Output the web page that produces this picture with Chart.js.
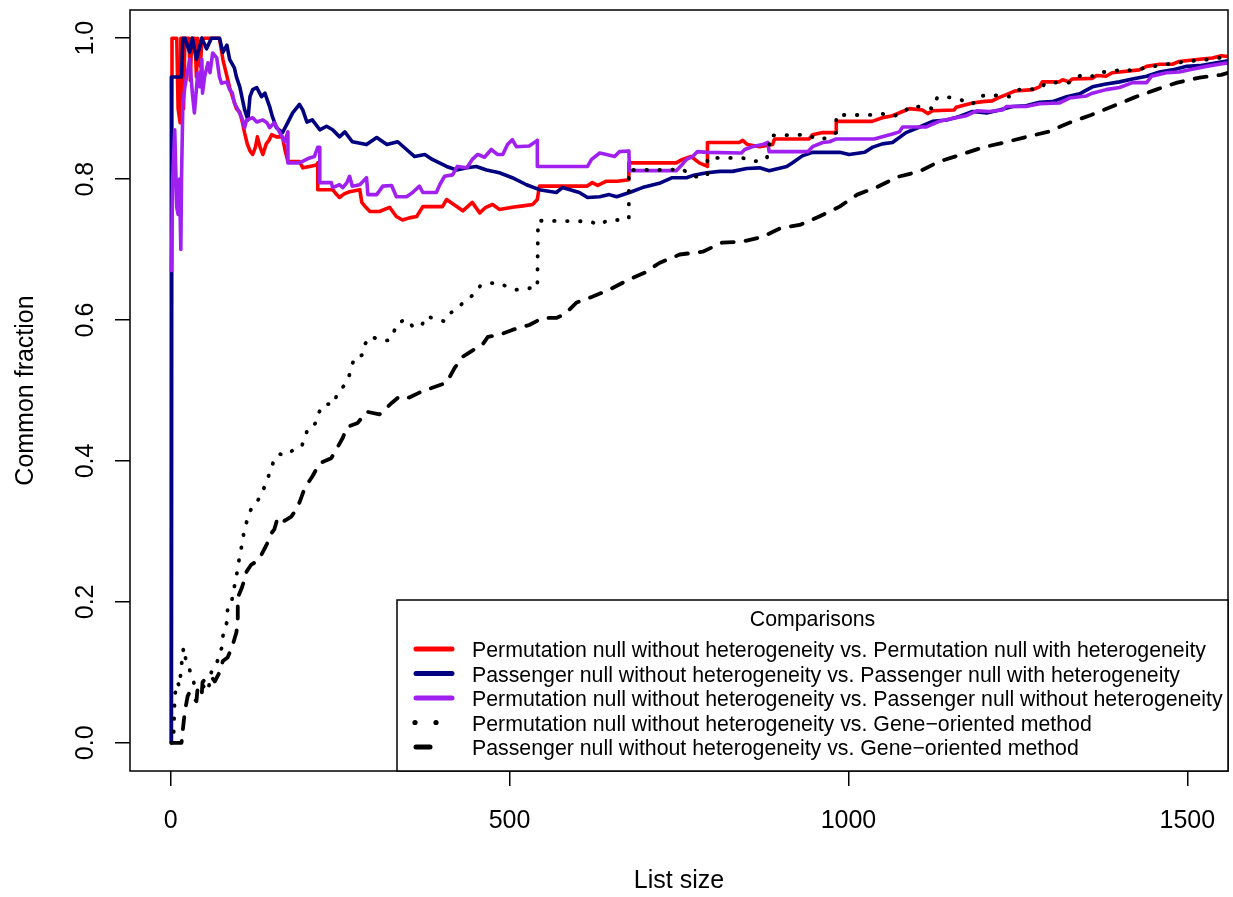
<!DOCTYPE html>
<html>
<head>
<meta charset="utf-8">
<script src="https://cdn.jsdelivr.net/npm/chart.js@4.4.0/dist/chart.umd.min.js"></script>
<style>
  html, body { margin: 0; padding: 0; background: #fff; }
  canvas { display: block; }
</style>
</head>
<body>
<canvas id="myChart" width="1233" height="897" style="width:1233px;height:897px"></canvas>
<script>
/* ===== DATA ===== */
const xTicks = [0, 500, 1000, 1500];
const xTickLabels = ['0', '500', '1000', '1500'];
const yTicks = [0, 0.2, 0.4, 0.6, 0.8, 1.0];
const yTickLabels = ['0.0', '0.2', '0.4', '0.6', '0.8', '1.0'];

const seriesNames = [
    'Permutation null without heterogeneity vs. Permutation null with heterogeneity',
    'Passenger null without heterogeneity vs. Passenger null with heterogeneity',
    'Permutation null without heterogeneity vs. Passenger null without heterogeneity',
    'Permutation null without heterogeneity vs. Gene\u2212oriented method',
    'Passenger null without heterogeneity vs. Gene\u2212oriented method'
];

// [list size, common fraction]
const permVsPermHet = [[1,0],[2,1],[9,1],[11,0.9],[14,0.88],[15,1],[18,1],[19,0.9],[21,1],[27,1],[29,0.94],[31,1],[36,1],[38,0.945],[40,1],[44,0.96],[46,1],[72,1],[77,0.97],[82,0.95],[87,0.93],[92,0.915],[97,0.9],[102,0.895],[106,0.88],[109,0.866],[113,0.85],[117,0.84],[121,0.835],[125,0.845],[128,0.86],[132,0.845],[136,0.835],[141,0.85],[145,0.855],[149,0.863],[156,0.86],[165,0.86],[169,0.84],[173,0.825],[190,0.825],[195,0.816],[205,0.818],[215,0.82],[217,0.823],[217,0.785],[239,0.785],[245,0.778],[249,0.774],[256,0.779],[264,0.782],[279,0.785],[282,0.767],[288,0.76],[294,0.754],[308,0.754],[323,0.76],[333,0.747],[342,0.742],[352,0.745],[363,0.747],[372,0.761],[401,0.761],[407,0.771],[422,0.761],[431,0.755],[445,0.767],[456,0.752],[465,0.76],[475,0.764],[485,0.757],[504,0.76],[520,0.762],[534,0.764],[541,0.771],[544,0.79],[614,0.79],[622,0.795],[630,0.791],[643,0.797],[659,0.797],[676,0.799],[676,0.823],[746,0.823],[755,0.828],[768,0.832],[780,0.823],[792,0.818],[792,0.852],[839,0.852],[844,0.855],[851,0.849],[869,0.846],[888,0.849],[891,0.857],[942,0.857],[947,0.863],[962,0.866],[982,0.866],[982,0.882],[1035,0.882],[1050,0.887],[1065,0.89],[1080,0.896],[1090,0.9],[1109,0.898],[1117,0.893],[1124,0.897],[1156,0.898],[1159,0.902],[1183,0.908],[1198,0.91],[1212,0.911],[1220,0.915],[1233,0.92],[1245,0.925],[1272,0.927],[1282,0.931],[1286,0.938],[1311,0.938],[1316,0.941],[1326,0.938],[1330,0.942],[1360,0.943],[1366,0.947],[1380,0.946],[1389,0.951],[1429,0.955],[1440,0.96],[1459,0.963],[1478,0.963],[1488,0.967],[1518,0.97],[1537,0.972],[1550,0.975],[1560,0.974]];

const passVsPassHet = [[1,0],[1,0.945],[16,0.945],[18,1],[21,1],[28,0.98],[32,1],[38,0.97],[46,1],[53,0.985],[60,1],[72,1],[77,0.98],[83,0.99],[87,0.97],[94,0.958],[97,0.945],[102,0.931],[109,0.899],[114,0.884],[117,0.917],[121,0.927],[127,0.93],[134,0.917],[139,0.922],[146,0.903],[150,0.889],[156,0.873],[165,0.866],[171,0.877],[180,0.894],[190,0.906],[195,0.898],[201,0.881],[209,0.884],[220,0.87],[230,0.875],[239,0.87],[249,0.86],[257,0.867],[268,0.853],[289,0.849],[304,0.859],[319,0.849],[335,0.853],[348,0.842],[360,0.832],[375,0.835],[386,0.828],[407,0.818],[422,0.813],[437,0.816],[451,0.818],[466,0.813],[485,0.809],[504,0.802],[525,0.792],[544,0.785],[569,0.781],[578,0.788],[603,0.781],[615,0.774],[633,0.775],[647,0.778],[658,0.775],[677,0.781],[696,0.788],[721,0.794],[740,0.802],[761,0.802],[770,0.805],[791,0.809],[810,0.811],[829,0.811],[850,0.815],[869,0.816],[883,0.812],[909,0.818],[917,0.823],[932,0.833],[947,0.838],[987,0.838],[1001,0.835],[1024,0.838],[1035,0.845],[1050,0.85],[1065,0.852],[1085,0.866],[1105,0.874],[1124,0.882],[1145,0.884],[1164,0.889],[1183,0.896],[1204,0.894],[1223,0.898],[1242,0.903],[1262,0.904],[1282,0.909],[1301,0.91],[1322,0.917],[1341,0.921],[1360,0.931],[1380,0.935],[1400,0.938],[1419,0.942],[1440,0.946],[1459,0.952],[1478,0.955],[1499,0.96],[1518,0.961],[1537,0.964],[1560,0.968]];

const permVsPass = [[1,0.668],[3,0.8],[6,0.87],[9,0.76],[11,0.75],[13,0.8],[15,0.7],[16,0.8],[18,0.908],[21,0.931],[28,0.97],[32,0.922],[35,0.894],[40,0.951],[43,0.931],[46,0.97],[47,0.922],[50,0.945],[55,0.965],[58,0.951],[62,0.979],[68,0.972],[72,0.945],[75,0.936],[83,0.938],[87,0.927],[91,0.922],[94,0.908],[99,0.899],[105,0.887],[109,0.873],[112,0.884],[121,0.887],[127,0.881],[136,0.884],[142,0.88],[146,0.873],[153,0.88],[161,0.866],[168,0.853],[173,0.867],[173,0.823],[190,0.823],[205,0.83],[212,0.832],[217,0.845],[220,0.845],[220,0.795],[237,0.795],[239,0.788],[249,0.792],[254,0.788],[260,0.795],[264,0.804],[268,0.79],[279,0.792],[289,0.802],[291,0.778],[304,0.778],[313,0.79],[326,0.791],[333,0.775],[348,0.775],[357,0.781],[367,0.79],[372,0.781],[392,0.781],[397,0.792],[404,0.804],[416,0.806],[423,0.818],[437,0.816],[445,0.828],[453,0.835],[463,0.831],[473,0.842],[482,0.835],[490,0.835],[497,0.849],[504,0.856],[510,0.846],[529,0.847],[541,0.855],[541,0.818],[615,0.818],[621,0.828],[633,0.837],[643,0.835],[655,0.832],[662,0.839],[676,0.84],[677,0.812],[746,0.812],[754,0.82],[761,0.828],[770,0.832],[777,0.839],[792,0.838],[842,0.837],[847,0.842],[858,0.846],[873,0.849],[881,0.852],[883,0.839],[940,0.839],[947,0.846],[962,0.852],[972,0.853],[982,0.857],[1038,0.857],[1050,0.86],[1065,0.864],[1075,0.867],[1080,0.874],[1115,0.874],[1134,0.882],[1153,0.886],[1174,0.89],[1189,0.897],[1208,0.896],[1227,0.898],[1233,0.903],[1262,0.903],[1282,0.907],[1311,0.908],[1326,0.915],[1351,0.918],[1360,0.922],[1380,0.927],[1400,0.93],[1419,0.937],[1440,0.937],[1447,0.946],[1469,0.951],[1488,0.952],[1507,0.956],[1528,0.96],[1547,0.963],[1560,0.965]];

const permVsGene = [[1,0],[4,0],[6,0.067],[10,0.086],[13,0.08],[16,0.111],[19,0.135],[22,0.12],[25,0.114],[29,0.1],[35,0.083],[43,0.086],[55,0.073],[60,0.1],[68,0.114],[72,0.123],[75,0.134],[77,0.151],[80,0.164],[83,0.171],[84,0.189],[88,0.192],[91,0.206],[94,0.222],[97,0.236],[100,0.255],[103,0.27],[106,0.286],[109,0.305],[112,0.313],[115,0.324],[121,0.336],[128,0.343],[135,0.355],[145,0.38],[152,0.4],[160,0.41],[170,0.408],[180,0.415],[193,0.42],[198,0.433],[202,0.445],[209,0.447],[215,0.456],[218,0.468],[227,0.481],[240,0.48],[246,0.496],[255,0.506],[263,0.52],[267,0.533],[271,0.547],[282,0.55],[286,0.565],[295,0.577],[310,0.571],[322,0.571],[330,0.585],[335,0.596],[348,0.601],[357,0.591],[370,0.591],[376,0.605],[392,0.602],[404,0.598],[410,0.608],[422,0.616],[432,0.625],[441,0.632],[450,0.638],[457,0.649],[470,0.652],[484,0.653],[499,0.646],[510,0.643],[528,0.645],[541,0.646],[542,0.741],[618,0.74],[633,0.735],[645,0.742],[661,0.742],[676,0.744],[676,0.813],[736,0.813],[754,0.815],[768,0.805],[783,0.802],[792,0.806],[792,0.83],[844,0.83],[860,0.825],[879,0.828],[883,0.842],[884,0.862],[941,0.863],[954,0.856],[972,0.859],[982,0.866],[982,0.891],[1031,0.891],[1049,0.893],[1065,0.889],[1080,0.893],[1090,0.903],[1108,0.903],[1125,0.9],[1131,0.916],[1149,0.916],[1167,0.912],[1183,0.906],[1190,0.916],[1205,0.92],[1226,0.918],[1240,0.917],[1252,0.927],[1282,0.928],[1292,0.937],[1326,0.937],[1344,0.948],[1360,0.946],[1370,0.952],[1389,0.952],[1403,0.956],[1419,0.954],[1434,0.957],[1451,0.96],[1466,0.963],[1484,0.964],[1499,0.968],[1515,0.968],[1532,0.97],[1547,0.972],[1560,0.974]];

const passVsGene = [[1,0],[16,0],[18,0.019],[21,0.045],[25,0.066],[28,0.072],[38,0.059],[40,0.08],[46,0.071],[47,0.086],[53,0.093],[60,0.094],[65,0.087],[72,0.1],[77,0.116],[84,0.121],[91,0.137],[97,0.157],[99,0.171],[99,0.206],[105,0.22],[109,0.232],[112,0.243],[119,0.253],[128,0.258],[134,0.267],[142,0.282],[149,0.298],[153,0.303],[158,0.32],[168,0.315],[178,0.321],[183,0.328],[190,0.341],[198,0.362],[209,0.378],[220,0.397],[237,0.404],[246,0.419],[254,0.433],[260,0.448],[276,0.454],[289,0.47],[308,0.466],[327,0.483],[338,0.492],[352,0.49],[367,0.497],[386,0.504],[407,0.511],[419,0.532],[431,0.548],[444,0.556],[460,0.565],[468,0.576],[485,0.579],[504,0.586],[529,0.593],[549,0.603],[569,0.603],[581,0.608],[599,0.625],[622,0.633],[647,0.643],[673,0.656],[699,0.667],[721,0.681],[751,0.693],[785,0.697],[814,0.71],[842,0.711],[873,0.718],[901,0.731],[928,0.735],[957,0.747],[987,0.761],[1013,0.778],[1043,0.789],[1072,0.803],[1105,0.811],[1134,0.825],[1167,0.835],[1198,0.845],[1230,0.852],[1263,0.86],[1294,0.867],[1326,0.88],[1358,0.891],[1389,0.903],[1422,0.916],[1454,0.927],[1485,0.937],[1518,0.944],[1550,0.948],[1560,0.951]];

const seriesColors = ['#ff0000', '#000080', '#a020f0', '#000000', '#000000'];

/* ===== HELPERS ===== */
const toPts = arr => arr.map(p => ({ x: p[0], y: p[1] }));
const font = '"Liberation Sans", Arial, Helvetica, sans-serif';

/* ===== R STYLE AXES + LEGEND ===== */
const rStyle = {
    id: 'rStyle',
    afterDraw(chart) {
        const ctx = chart.ctx;
        const a = chart.chartArea;
        const xs = chart.scales.x;
        const ys = chart.scales.y;
        ctx.save();

        // box round plot
        ctx.strokeStyle = '#000';
        ctx.lineWidth = 1.5;
        ctx.strokeRect(a.left, a.top, a.right - a.left, a.bottom - a.top);

        // tick labels
        ctx.fillStyle = '#000';
        ctx.font = '25px ' + font;
        ctx.textAlign = 'center';
        ctx.textBaseline = 'alphabetic';
        xTicks.forEach((v, i) => ctx.fillText(xTickLabels[i], xs.getPixelForValue(v), 828));
        yTicks.forEach((v, i) => {
            ctx.save();
            ctx.translate(93, ys.getPixelForValue(v));
            ctx.rotate(-Math.PI / 2);
            ctx.fillText(yTickLabels[i], 0, 0);
            ctx.restore();
        });

        // axis titles
        ctx.fillText('List size', (a.left + a.right) / 2, 888);
        ctx.save();
        ctx.translate(33, (a.top + a.bottom) / 2);
        ctx.rotate(-Math.PI / 2);
        ctx.fillText('Common fraction', 0, 0);
        ctx.restore();

        // legend
        const lx = 397, ly = 600, lr = a.right, lb = a.bottom;
        ctx.fillStyle = '#fff';
        ctx.fillRect(lx, ly, lr - lx, lb - ly);
        ctx.strokeStyle = '#000';
        ctx.lineWidth = 1.5;
        ctx.strokeRect(lx, ly, lr - lx, lb - ly);

        ctx.fillStyle = '#000';
        ctx.font = '21.3px ' + font;
        ctx.textAlign = 'center';
        ctx.fillText('Comparisons', (lx + lr) / 2, 626);

        ctx.textAlign = 'left';
        seriesNames.forEach((name, i) => {
            const base = 657 + i * 24.5;
            const yy = base - 8;
            ctx.fillStyle = '#000';
            ctx.fillText(name, 472, base);
            ctx.strokeStyle = seriesColors[i];
            ctx.fillStyle = seriesColors[i];
            ctx.lineWidth = 5;
            ctx.lineCap = 'round';
            if (i < 3) {
                ctx.beginPath();
                ctx.moveTo(416, yy);
                ctx.lineTo(452, yy);
                ctx.stroke();
            } else if (i === 3) {
                [415, 436].forEach(dx => {
                    ctx.beginPath();
                    ctx.arc(dx, yy, 2.6, 0, Math.PI * 2);
                    ctx.fill();
                });
            } else {
                ctx.beginPath();
                ctx.moveTo(416, yy);
                ctx.lineTo(430, yy);
                ctx.stroke();
            }
        });
        ctx.restore();
    }
};

/* ===== Chart JS ===== */
const myChart = document.getElementById('myChart').getContext('2d');

const lineChart = new Chart(myChart, {
    type: 'line',
    data: {
        datasets: [
            { label: seriesNames[0], data: toPts(permVsPermHet), borderColor: seriesColors[0], borderWidth: 3.6, order: 5 },
            { label: seriesNames[1], data: toPts(passVsPassHet), borderColor: seriesColors[1], borderWidth: 3.6, order: 4 },
            { label: seriesNames[2], data: toPts(permVsPass), borderColor: seriesColors[2], borderWidth: 3.6, order: 3 },
            { label: seriesNames[3], data: toPts(permVsGene), borderColor: seriesColors[3], borderWidth: 3.8, borderDash: [0.5, 12.5], borderCapStyle: 'round', order: 2 },
            { label: seriesNames[4], data: toPts(passVsGene), borderColor: seriesColors[4], borderWidth: 3.8, borderDash: [12, 12], borderCapStyle: 'round', order: 1 },
        ],
    },
    options: {
        responsive: false,
        animation: false,
        devicePixelRatio: 1,
        layout: { padding: { left: 0, right: 5, top: 10, bottom: 0 } },
        elements: {
            point: { radius: 0, hoverRadius: 0 },
            line: { tension: 0, fill: false, borderJoinStyle: 'round' },
        },
        plugins: {
            legend: { display: false },
            tooltip: { enabled: false },
        },
        scales: {
            x: {
                type: 'linear',
                min: -60,
                max: 1560,
                afterBuildTicks: s => { s.ticks = xTicks.map(v => ({ value: v })); },
                afterFit: s => { s.height = 126; },
                ticks: { display: false },
                border: { display: false },
                grid: { drawOnChartArea: false, drawTicks: true, tickLength: 15, color: '#000', lineWidth: 1.5 },
            },
            y: {
                min: -0.04,
                max: 1.04,
                afterBuildTicks: s => { s.ticks = yTicks.map(v => ({ value: v })); },
                afterFit: s => { s.width = 130; },
                ticks: { display: false },
                border: { display: false },
                grid: { drawOnChartArea: false, drawTicks: true, tickLength: 15, color: '#000', lineWidth: 1.5 },
            },
        },
    },
    plugins: [rStyle],
});
</script>
</body>
</html>
